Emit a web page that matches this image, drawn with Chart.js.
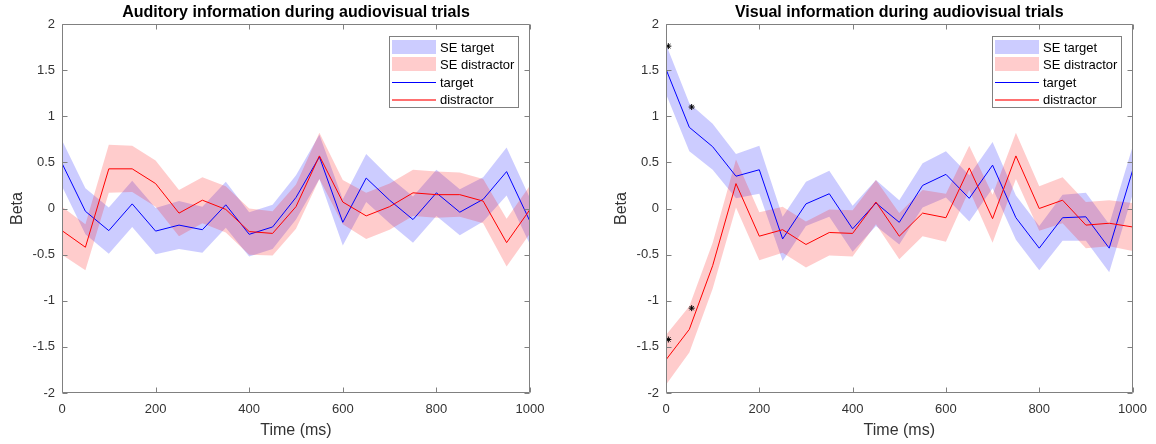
<!DOCTYPE html>
<html>
<head>
<meta charset="utf-8">
<script src="https://cdn.jsdelivr.net/npm/chart.js@4.4.1/dist/chart.umd.min.js"></script>
<style>
  body { margin: 0; background: #fff; }
  #wrap { position: relative; width: 1156px; height: 444px; }
  canvas { position: absolute; top: 0; }
</style>
</head>
<body>
<div id="wrap">
  <canvas id="audChart" width="580" height="444" style="left:0"></canvas>
  <canvas id="visChart" width="576" height="444" style="left:580px"></canvas>
</div>
<script>
/* Data */
const times = [0, 50, 100, 150, 200, 250, 300, 350, 400, 450, 500, 550, 600, 650, 700, 750, 800, 850, 900, 950, 1000];

// auditory information (left panel)
const audTarget     = [0.49, -0.03, -0.24, 0.05, -0.245, -0.18, -0.23, 0.04, -0.28, -0.20, 0.12, 0.56, -0.15, 0.33, 0.09, -0.12, 0.17, -0.04, 0.10, 0.40, -0.14];
const audTargetSe   = [0.25, 0.25, 0.25, 0.25, 0.25, 0.26, 0.25, 0.25, 0.24, 0.24, 0.24, 0.24, 0.25, 0.26, 0.25, 0.25, 0.25, 0.25, 0.24, 0.26, 0.25];
const audDistr      = [-0.24, -0.42, 0.43, 0.43, 0.27, -0.05, 0.09, -0.01, -0.25, -0.27, 0.02, 0.57, 0.07, -0.08, 0.02, 0.17, 0.15, 0.15, 0.08, -0.37, -0.01];
const audDistrSe    = [0.26, 0.25, 0.26, 0.25, 0.25, 0.25, 0.25, 0.25, 0.25, 0.24, 0.24, 0.25, 0.24, 0.25, 0.25, 0.25, 0.25, 0.24, 0.24, 0.26, 0.26];

// visual information (right panel)
const visTarget     = [1.51, 0.88, 0.67, 0.35, 0.42, -0.33, 0.05, 0.16, -0.22, 0.06, -0.15, 0.25, 0.37, 0.11, 0.47, -0.10, -0.43, -0.10, -0.09, -0.43, 0.41];
const visTargetSe   = [0.27, 0.26, 0.25, 0.24, 0.26, 0.24, 0.24, 0.25, 0.25, 0.25, 0.24, 0.24, 0.25, 0.25, 0.25, 0.24, 0.24, 0.25, 0.26, 0.26, 0.26];
const visDistr      = [-1.64, -1.31, -0.62, 0.27, -0.30, -0.23, -0.39, -0.26, -0.27, 0.07, -0.30, -0.05, -0.10, 0.44, -0.11, 0.57, 0.00, 0.09, -0.18, -0.16, -0.20];
const visDistrSe    = [0.27, 0.25, 0.25, 0.26, 0.26, 0.25, 0.25, 0.25, 0.25, 0.24, 0.25, 0.25, 0.26, 0.24, 0.26, 0.25, 0.24, 0.25, 0.25, 0.25, 0.26];

// significance markers (right panel)
const starX = [5, 55, 55, 5];
const starY = [1.76, 1.10, -1.08, -1.42];

const legendLabels = ['SE target', 'SE distractor', 'target', 'distractor'];

Chart.defaults.font.family = '"Liberation Sans", Arial, sans-serif';
Chart.defaults.color = '#333';

const xy = (ys) => ys.map((v, i) => ({x: times[i], y: v}));
const band = (ys, se, sign) => ys.map((v, i) => ({x: times[i], y: v + sign * se[i]}));

/* MATLAB-like box, inward ticks, title and legend */
const matlabAxes = {
    id: 'matlabAxes',
    afterDraw(chart, args, opts) {
        const {ctx, chartArea: a, scales: {x, y}} = chart;
        const L = Math.round(a.left) + 0.5, R = Math.round(a.right) - 0.5;
        const T = Math.round(a.top) + 0.5, B = Math.round(a.bottom) - 0.5;
        ctx.save();
        ctx.strokeStyle = '#808080';
        ctx.lineWidth = 1;
        ctx.beginPath();
        ctx.rect(L, T, R - L, B - T);
        x.ticks.forEach(t => {
            const px = Math.round(x.getPixelForValue(t.value)) + 0.5;
            ctx.moveTo(px, B); ctx.lineTo(px, B - 5);
            ctx.moveTo(px, T); ctx.lineTo(px, T + 5);
        });
        y.ticks.forEach(t => {
            const py = Math.round(y.getPixelForValue(t.value)) + 0.5;
            ctx.moveTo(L, py); ctx.lineTo(L + 5, py);
            ctx.moveTo(R, py); ctx.lineTo(R - 5, py);
        });
        ctx.stroke();

        // title
        ctx.fillStyle = '#000';
        ctx.font = 'bold 16px "Liberation Sans", Arial, sans-serif';
        ctx.textAlign = 'center';
        ctx.textBaseline = 'middle';
        ctx.fillText(opts.title, (a.left + a.right) / 2, 13);

        // legend box
        const w = 129, h = 71;
        const lx = Math.round(a.right) - 12 - w, ly = Math.round(a.top) + 12;
        ctx.fillStyle = '#fff';
        ctx.fillRect(lx, ly, w, h);
        ctx.strokeStyle = '#808080';
        ctx.strokeRect(lx + 0.5, ly + 0.5, w, h);
        ctx.font = '13px "Liberation Sans", Arial, sans-serif';
        ctx.textAlign = 'left';
        const swatches = ['rgba(0,0,255,0.2)', 'rgba(255,0,0,0.2)', '#0000ff', '#ff7070'];
        swatches.forEach((c, i) => {
            const cy = Math.round(ly + 11 + i * 17.3);
            ctx.fillStyle = c;
            if (i < 2) {
                ctx.fillRect(lx + 3, cy - 7, 44, 14);
            } else if (i === 2) {
                ctx.fillRect(lx + 3, cy, 44, 1);
            } else {
                ctx.fillRect(lx + 3, cy, 44, 2);
            }
            ctx.fillStyle = '#000';
            ctx.fillText(legendLabels[i], lx + 51, cy + 1);
        });
        ctx.restore();
    }
};

function makeChart(id, title, target, targetSe, distr, distrSe, stars, padLeft, padRight) {
    const datasets = [
        {label: legendLabels[0], data: band(target, targetSe, 1), fill: '+1', backgroundColor: 'rgba(0,0,255,0.2)', borderWidth: 0, pointRadius: 0, order: 6},
        {label: 'SE target low', data: band(target, targetSe, -1), fill: false, borderWidth: 0, pointRadius: 0, order: 5},
        {label: legendLabels[1], data: band(distr, distrSe, 1), fill: '+1', backgroundColor: 'rgba(255,0,0,0.2)', borderWidth: 0, pointRadius: 0, order: 4},
        {label: 'SE distractor low', data: band(distr, distrSe, -1), fill: false, borderWidth: 0, pointRadius: 0, order: 3},
        {label: legendLabels[2], data: xy(target), borderColor: '#0000ff', borderWidth: 1, pointRadius: 0, fill: false, order: 2},
        {label: legendLabels[3], data: xy(distr), borderColor: '#ff0000', borderWidth: 1, pointRadius: 0, fill: false, order: 1}
    ];
    if (stars) {
        datasets.push({
            label: 'significant', data: stars, showLine: false, pointStyle: 'star',
            pointRadius: 3, borderColor: '#000', borderWidth: 1, backgroundColor: '#000', order: 0
        });
    }
    return new Chart(id, {
        type: 'line',
        data: {datasets: datasets},
        plugins: [matlabAxes],
        options: {
            responsive: false,
            animation: false,
            devicePixelRatio: 1,
            layout: {padding: {top: 24, left: padLeft, right: padRight, bottom: 0}},
            scales: {
                x: {
                    type: 'linear', min: 0, max: 1000,
                    grid: {display: false, drawTicks: false},
                    border: {display: false},
                    ticks: {stepSize: 200, padding: 9, font: {size: 13}, maxRotation: 0,
                            callback: (v) => String(v)},
                    title: {display: true, text: 'Time (ms)', font: {size: 16}, color: '#333', padding: {top: 0, bottom: 4}},
                    afterFit: (s) => { s.height = 51; }
                },
                y: {
                    min: -2, max: 2,
                    grid: {display: false, drawTicks: false},
                    border: {display: false},
                    ticks: {stepSize: 0.5, padding: 7, font: {size: 13},
                            callback: (v) => String(v)},
                    title: {display: true, text: 'Beta', font: {size: 16}, color: '#333', padding: {top: 8, bottom: 0}},
                    afterFit: (s) => { s.width = 62; }
                }
            },
            plugins: {
                legend: {display: false},
                tooltip: {enabled: false},
                matlabAxes: {title: title}
            }
        }
    });
}

const starPoints = starX.map((v, i) => ({x: v, y: starY[i]}));

makeChart('audChart', 'Auditory information during audiovisual trials',
    audTarget, audTargetSe, audDistr, audDistrSe, null, 0, 50);
makeChart('visChart', 'Visual information during audiovisual trials',
    visTarget, visTargetSe, visDistr, visDistrSe, starPoints, 24, 19);
</script>
</body>
</html>
